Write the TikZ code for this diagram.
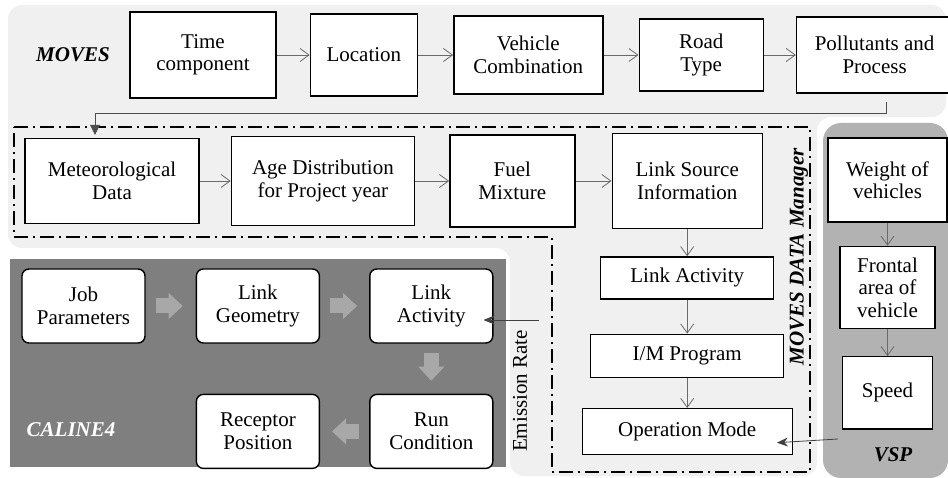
\documentclass[tikz,border=0pt]{standalone}
\usepackage{fontspec}
\setmainfont{Liberation Serif}
\usetikzlibrary{arrows.meta, positioning}
\definecolor{panelgray}{HTML}{F0F0F0}
\definecolor{calgray}{HTML}{7F7F7F}
\definecolor{vspgray}{HTML}{B2B2B2}
\definecolor{blockgray}{HTML}{A8A8A8}
\definecolor{linegray}{HTML}{6A6A6A}
\tikzset{
  box/.style={rectangle, draw, line width=1.4pt, fill=white, align=center, inner sep=0pt, font=\fontsize{21}{22.5}\selectfont},
  cbox/.style={box, rounded corners=7pt, minimum width=123pt, minimum height=74pt},
  title/.style={font=\fontsize{21}{22.5}\selectfont\bfseries\itshape, inner sep=0pt},
  flow/.style={-{Straight Barb[length=9pt,width=13pt]}, draw=linegray, line width=0.8pt},
  link/.style={-{Stealth[length=11pt,width=9pt]}, draw=black!75, line width=0.8pt},
  block/.style={-{Triangle[length=14pt,width=26pt,line width=0pt]}, draw=blockgray, line width=15pt},
  frame/.style={line width=1.5pt, dash pattern=on 14pt off 5pt on 2pt off 5pt},
}

\begin{document}
\begin{tikzpicture}[x=1pt, y=-1pt]
    \useasboundingbox (0,0) rectangle (948,478);
    \fill[panelgray, rounded corners=14pt] (8,5) -- (946,5) -- (946,117) -- (817,117) -- (817,476) -- (510,476) -- (510,248) -- (8,248) -- cycle;
    \fill[calgray] (10,259) rectangle (506,467);
    \fill[vspgray, rounded corners=18pt] (823,123) rectangle (948,478);
    \draw[frame] (14,127) -- (810,127) -- (810,472) -- (552,472) -- (552,237) -- (14,237) -- cycle;

    \node[title] (moves) at (73,55) {MOVES};
    \node[box, minimum width=146pt, minimum height=86pt] (time) at (203,55) {Time\\component};
    \node[box, minimum width=107pt, minimum height=82pt, right=33pt of time] (location) {Location};
    \node[box, minimum width=149pt, minimum height=78pt, right=35pt of location] (vehicle) {Vehicle\\Combination};
    \node[box, minimum width=124pt, minimum height=72pt, right=35pt of vehicle] (roadtype) {Road\\Type};
    \node[box, minimum width=156pt, minimum height=76pt, right=32pt of roadtype] (pollutants) {Pollutants and\\Process};

    \node[box, minimum width=174pt, minimum height=85pt] (meteo) at (112,181) {Meteorological\\Data};
    \node[box, minimum width=183pt, minimum height=89pt, right=31pt of meteo] (agedist) {Age Distribution\\for Project year};
    \node[box, minimum width=125pt, minimum height=92pt, right=34pt of agedist] (fuel) {Fuel\\Mixture};
    \node[box, minimum width=150pt, minimum height=95pt, right=36pt of fuel] (linksource) {Link Source\\Information};
    \node[box, minimum width=173pt, minimum height=42pt, below=27pt of linksource] (linkact) {Link Activity};
    \node[box, minimum width=193pt, minimum height=43pt, below=34pt of linkact] (improg) {I/M Program};
    \node[box, minimum width=210pt, minimum height=46pt, below=30pt of improg] (opmode) {Operation Mode};
    \node[title, rotate=90] (manager) at (799,257) {MOVES DATA Manager};

    \node[box, minimum width=119pt, minimum height=84pt] (weight) at (887.5,180) {Weight of\\vehicles};
    \node[box, minimum width=95pt, minimum height=82pt, below=23pt of weight] (frontal) {Frontal\\area of\\vehicle};
    \node[box, minimum width=90pt, minimum height=72pt, below=27pt of frontal] (speed) {Speed};
    \node[title] (vsp) at (893,455) {VSP};

    \node[cbox] (job) at (83.5,306) {Job\\Parameters};
    \node[cbox, right=50pt of job] (geom) {Link\\Geometry};
    \node[cbox, right=49pt of geom] (cact) {Link\\Activity};
    \node[cbox, below=50pt of cact] (run) {Run\\Condition};
    \node[cbox, left=49pt of run] (receptor) {Receptor\\Position};
    \node[title, text=white] (caline) at (71,430) {CALINE4};
    \node[rotate=90, font=\fontsize{21}{22.5}\selectfont, inner sep=0pt] (emission) at (520,391) {Emission Rate};

    \draw[flow] (time) -- (location);
    \draw[flow] (location) -- (vehicle);
    \draw[flow] (vehicle) -- (roadtype);
    \draw[flow] (roadtype) -- (pollutants);
    \draw[flow] (meteo) -- (agedist);
    \draw[flow] (agedist) -- (fuel);
    \draw[flow] (fuel) -- (linksource);
    \draw[flow] (linksource) -- (linkact);
    \draw[flow] (linkact) -- (improg);
    \draw[flow] (improg) -- (opmode);
    \draw[flow] (weight) -- (frontal);
    \draw[flow] (frontal) -- (speed);
    \draw[draw=black!70, line width=0.8pt, -{Triangle[length=10pt,width=10pt]}] ([xshift=12pt,yshift=-8pt]pollutants.south) -- ++(0,12) -| ([xshift=-17pt,yshift=3pt]meteo.north);

    \coordinate (erstart) at (539,320);
    \coordinate (vspout) at (838,439);
    \draw[link] (erstart) -- ([xshift=-10pt,yshift=-14pt]cact.east);
    \draw[link] (vspout) -- ([xshift=-16pt,yshift=-11pt]opmode.east);

    \draw[block, shorten <=10pt, shorten >=13pt] (job) -- (geom);
    \draw[block, shorten <=10pt, shorten >=12pt] (geom) -- (cact);
    \draw[block, shorten <=9pt, shorten >=13pt] (cact) -- (run);
    \draw[block, shorten <=10pt, shorten >=12pt] (run) -- (receptor);
  \end{tikzpicture}
\end{document}
